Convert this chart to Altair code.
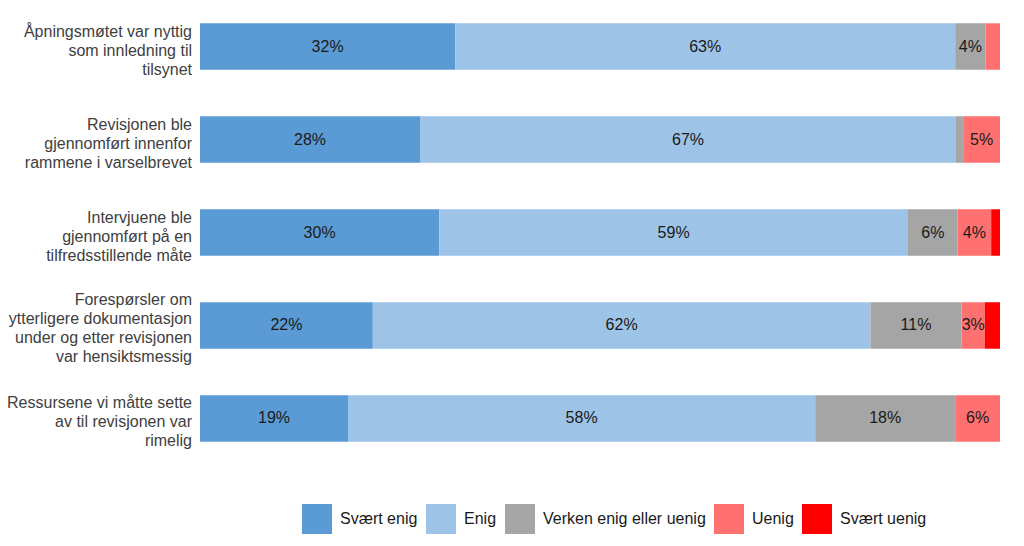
import altair as alt
import pandas as pd

questions = [
    "Åpningsmøtet var nyttig|som innledning til|tilsynet",
    "Revisjonen ble|gjennomført innenfor|rammene i varselbrevet",
    "Intervjuene ble|gjennomført på en|tilfredsstillende måte",
    "Forespørsler om|ytterligere dokumentasjon|under og etter revisjonen|var hensiktsmessig",
    "Ressursene vi måtte sette|av til revisjonen var|rimelig",
]
categories = ["Svært enig", "Enig", "Verken enig eller uenig", "Uenig", "Svært uenig"]
colors = ["#5B9BD5", "#9DC3E6", "#A5A5A5", "#FF7171", "#FF0000"]

svaert_enig = [31.9, 27.5, 29.9, 21.6, 18.5]
enig = [62.5, 67.0, 58.6, 62.2, 58.4]
verken = [3.8, 0.9, 6.2, 11.4, 17.5]
uenig = [1.8, 4.6, 4.2, 2.9, 5.6]
svaert_uenig = [0.0, 0.0, 1.1, 1.9, 0.0]

series = [svaert_enig, enig, verken, uenig, svaert_uenig]
rows = []
for ci, (cat, vals) in enumerate(zip(categories, series)):
    for q, v in zip(questions, vals):
        rows.append({"question": q, "category": cat, "order": ci, "value": v})
df = pd.DataFrame(rows)

qdf = pd.DataFrame({"question": questions, "nlines": [q.count("|") + 1 for q in questions]})

font = "Liberation Sans"
xscale = alt.Scale(domain=[0, 100])
yscale = alt.Scale(domain=questions, paddingInner=0.5, paddingOuter=0.1)

base = alt.Chart(df).transform_stack(
    stack="value",
    groupby=["question"],
    sort=[alt.SortField("order", order="ascending")],
    as_=["v0", "v1"],
).transform_calculate(
    mid="(datum.v0 + datum.v1) / 2",
    label="round(datum.value) + '%'",
)

bars = base.mark_bar().encode(
    y=alt.Y("question:N", sort=questions, scale=yscale, axis=None),
    x=alt.X("v0:Q", scale=xscale, axis=None),
    x2="v1:Q",
    color=alt.Color(
        "category:N",
        sort=categories,
        scale=alt.Scale(domain=categories, range=colors),
        legend=alt.Legend(
            title=None,
            orient="none",
            direction="horizontal",
            columns=5,
            legendX=102,
            legendY=490,
            symbolType="square",
            symbolSize=900,
            symbolStrokeWidth=0,
            symbolOpacity=1,
            labelFont=font,
            labelFontSize=16,
            labelColor="#1a1a1a",
            labelOffset=8,
            labelLimit=400,
            columnPadding=8,
            padding=0,
        ),
    ),
    order=alt.Order("order:Q"),
)

texts = base.transform_filter("datum.value >= 2.5").mark_text(
    font=font, fontSize=16, color="#1a1a1a", align="center", baseline="middle"
).encode(
    y=alt.Y("question:N", sort=questions, scale=yscale),
    x=alt.X("mid:Q", scale=xscale),
    text="label:N",
)

qbase = alt.Chart(qdf).transform_calculate(lines="split(datum.question, '|')")


def qlabels(n, dy):
    return qbase.transform_filter(f"datum.nlines == {n}").mark_text(
        font=font,
        fontSize=16,
        color="#404040",
        align="right",
        baseline="middle",
        lineHeight=19,
        dx=-8,
        dy=dy,
    ).encode(
        y=alt.Y("question:N", sort=questions, scale=yscale),
        x=alt.datum(0, scale=xscale),
        text="lines:N",
    )


chart = (
    alt.layer(bars, texts, qlabels(3, -15), qlabels(4, -25.5))
    .properties(
        width=800,
        height=437,
        autosize=alt.AutoSizeParams(type="none"),
        padding={"left": 192, "top": 6, "right": 16, "bottom": 88},
    )
    .configure(background="white", view=alt.ViewConfig(stroke=None))
)

chart.save("out.html", embed_options={"renderer": "svg", "actions": False})
